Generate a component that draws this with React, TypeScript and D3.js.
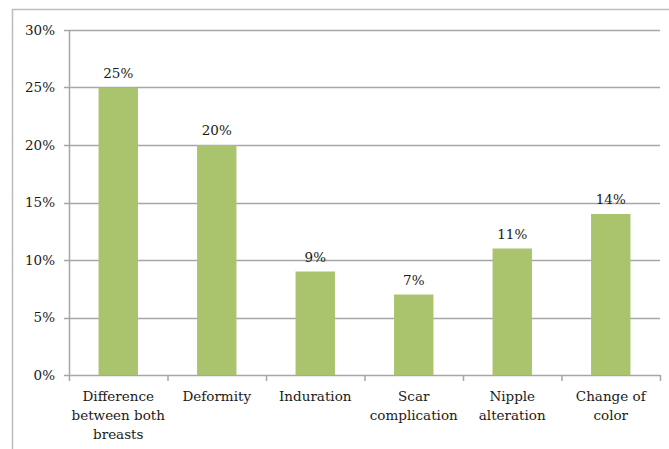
import React from "react";
import * as d3 from "d3";

const categories: string[][] = [
  ["Difference", "between both", "breasts"],
  ["Deformity"],
  ["Induration"],
  ["Scar", "complication"],
  ["Nipple", "alteration"],
  ["Change of", "color"],
];
const values = [25, 20, 9, 7, 11, 14];
const yTicks = [0, 5, 10, 15, 20, 25, 30];

const W = 669;
const H = 449;
const left = 69;
const right = 660;
const top = 30;
const bottom = 375;
const FONT = "'DejaVu Serif', serif";
const FS = 13.5;

export default function App() {
  const x = d3
    .scaleBand<number>()
    .domain(values.map((_, i) => i))
    .range([left, right])
    .paddingInner(0.6)
    .paddingOuter(0.3);
  const step = (right - left) / values.length;
  const y = d3.scaleLinear().domain([0, 30]).range([bottom, top]);

  return (
    <svg
      width={W}
      height={H}
      style={{ position: "absolute", left: 0, top: 0 }}
      fontFamily={FONT}
    >
      <rect x={0} y={0} width={W} height={H} fill="#fff" />
      {/* outer frame */}
      <path d={`M12.5,${H} V9.5 H${W}`} fill="none" stroke="#bdbdbd" strokeWidth={1.5} />
      {/* gridlines and y ticks */}
      {yTicks.map((t) => (
        <g key={t}>
          <line
            x1={left - 5}
            x2={right}
            y1={Math.round(y(t)) + 0.5}
            y2={Math.round(y(t)) + 0.5}
            stroke="#a6a6a6"
            strokeWidth={1.5}
          />
          <text
            x={55}
            y={y(t)}
            dy="0.35em"
            textAnchor="end"
            fontSize={FS}
            fill="#1a1a1a"
          >
            {t}%
          </text>
        </g>
      ))}
      {/* y axis */}
      <line x1={left + 0.5} x2={left + 0.5} y1={top} y2={bottom + 0.5} stroke="#a6a6a6" strokeWidth={1.5} />
      {/* category ticks */}
      {d3.range(values.length + 1).map((i) => (
        <line
          key={i}
          x1={left + step * i + 0.5}
          x2={left + step * i + 0.5}
          y1={bottom}
          y2={bottom + 6}
          stroke="#a6a6a6"
          strokeWidth={1.5}
        />
      ))}
      {/* bars */}
      {values.map((v, i) => (
        <g key={i}>
          <rect
            x={x(i)}
            y={y(v)}
            width={x.bandwidth()}
            height={bottom - y(v)}
            fill="#a9c46c"
          />
          <text
            x={(x(i) as number) + x.bandwidth() / 2}
            y={y(v) - 10}
            textAnchor="middle"
            fontSize={FS}
            fill="#1a1a1a"
          >
            {v}%
          </text>
        </g>
      ))}
      {/* category labels */}
      {categories.map((lines, i) => (
        <text
          key={i}
          x={left + step * (i + 0.5)}
          y={401}
          textAnchor="middle"
          fontSize={FS}
          fill="#1a1a1a"
        >
          {lines.map((l, j) => (
            <tspan key={j} x={left + step * (i + 0.5)} dy={j === 0 ? 0 : 19}>
              {l}
            </tspan>
          ))}
        </text>
      ))}
    </svg>
  );
}
